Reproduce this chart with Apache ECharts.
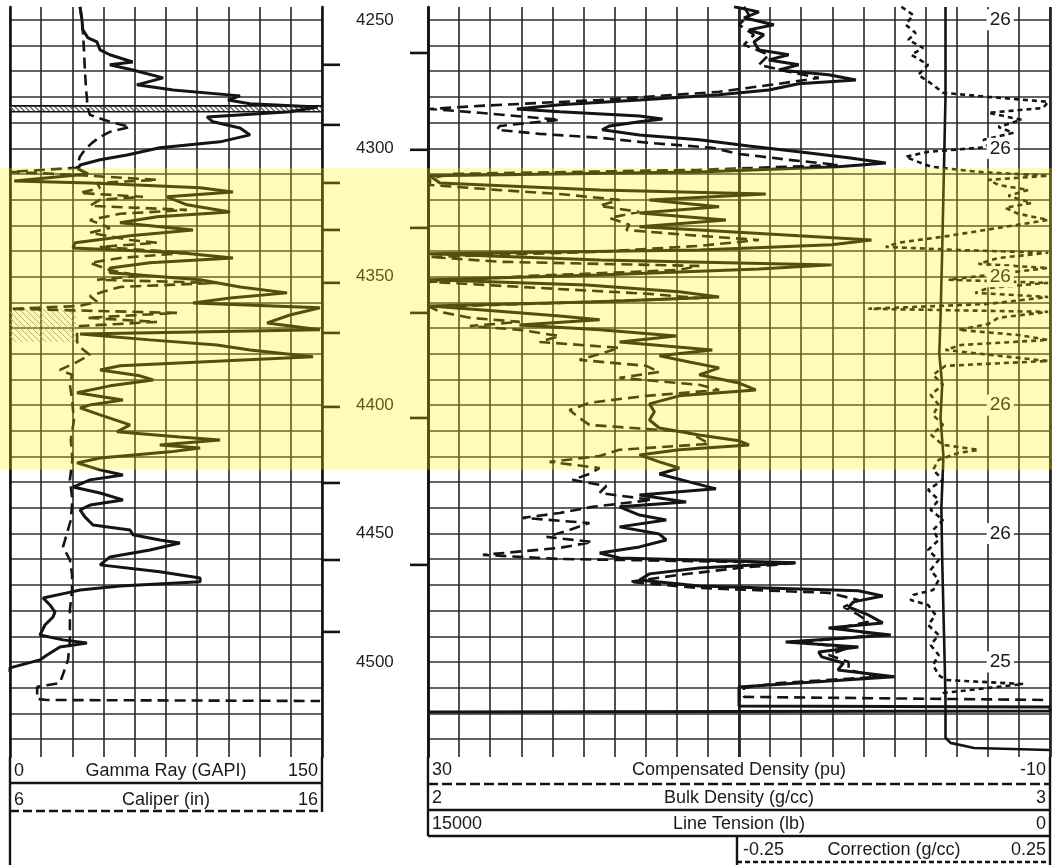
<!DOCTYPE html>
<html>
<head>
<meta charset="utf-8">
<title>Well log 4250-4530 ft</title>
<script src="https://cdn.jsdelivr.net/npm/echarts@6/dist/echarts.min.js"></script>
<style>
  html, body { margin: 0; padding: 0; background: #ffffff; }
  #chart { width: 1052px; height: 865px; }
</style>
</head>
<body>
<div id="chart"></div>
<script>
// ---- depth window (ft) ----
const DEPTH_TOP = 4245;
const DEPTH_BASE = 4537;

// highlighted reservoir interval (ft)
const zoneTop = 4307.6;
const zoneBase = 4425.2;

// ---- track 1 : gamma ray (GAPI) ----  [depth, value]
const gammaRay = [
  [4245, 33.7], [4250, 34.6], [4253.9, 35], [4257, 37.5], [4258.6, 41.8], [4261.7, 43.3], [4263.6, 48],
  [4266.4, 59], [4267.5, 48], [4269.5, 59], [4272.6, 73.6], [4275.3, 61], [4277.3, 78.4], [4279.6, 110.6],
  [4281.2, 104.8], [4282.7, 115.4], [4283.9, 148], [4285.8, 134.6], [4287.8, 94.7], [4289.7, 97.6],
  [4292.1, 110.6], [4294.8, 115.4], [4297.5, 101], [4299.8, 72], [4302.6, 56.3], [4304.5, 43.3],
  [4306.5, 33.7], [4308, 32.7], [4310, 37.5], [4312.7, 2], [4313.5, 38.5], [4315.4, 91.4], [4317, 107.2],
  [4318.9, 75.5], [4322, 85.1], [4324.8, 105.8], [4326.7, 70.7], [4329, 52.9], [4331.8, 88], [4334.1, 57.7],
  [4336.8, 31.3], [4338.8, 30.3], [4340.7, 81.7], [4342.7, 107.2], [4344.6, 67.3], [4346.6, 48.1],
  [4348.5, 48.1], [4351.2, 91.4], [4354, 110.6], [4356.3, 133.2], [4358.3, 105.8], [4360.2, 88],
  [4362.1, 149], [4364.9, 134.6], [4368, 123.6], [4370.7, 149], [4372.3, 33.7], [4374.6, 67.3],
  [4376.6, 99.5], [4378.5, 115.4], [4381.2, 145.7], [4383.2, 91.4], [4384.7, 52.9], [4386.3, 43.3],
  [4388.6, 62.5], [4390.2, 68.8], [4392.5, 48.1], [4395.2, 32.2], [4398, 54.3], [4399.9, 38.5],
  [4401.1, 33.7], [4403.8, 43.3], [4407.7, 57.7], [4410.4, 51.4], [4412.4, 81.7], [4413.6, 101],
  [4415.5, 72], [4416.7, 91.4], [4418.2, 76.9], [4420.6, 43.3], [4422.5, 32.2], [4425.2, 43.3],
  [4427.2, 54.3], [4429.1, 38.5], [4431.9, 30.3], [4434.2, 43.3], [4436.9, 54.3], [4438.9, 38.5],
  [4440.8, 33.7], [4443.5, 36], [4446.7, 39.9], [4448.6, 57.7], [4450.5, 59.1], [4452.5, 72],
  [4453.7, 81.7], [4456.4, 67.3], [4459.1, 48.1], [4462.2, 43.3], [4464.9, 72], [4467.3, 91.4],
  [4468.8, 91.4], [4470.4, 52.9], [4472, 33.7], [4473.1, 27.4], [4475.1, 15.9], [4477.8, 19.2],
  [4480.5, 21.6], [4482.5, 20.7], [4485.6, 16.8], [4489.5, 14.4], [4491.4, 25.5], [4492.6, 37],
  [4494.2, 24], [4497.3, 17.8], [4499.2, 14.4], [4502.3, 0], [4503.9, 0]
];

// ---- track 1 : caliper (in) ----  [depth, value]
const caliper = [
  [4244.9, 8.24], [4250, 8.31], [4255.1, 8.34], [4261.7, 8.37], [4269.5, 8.4], [4277.3, 8.44],
  [4281.2, 8.47], [4283.1, 8.47], [4287, 8.56], [4289.7, 9.2], [4291.7, 9.85], [4293.6, 9.2],
  [4295.6, 8.88], [4297.9, 8.63], [4300.6, 8.4], [4303.3, 8.24], [4305.7, 8.18], [4307.6, 8.15],
  [4309.2, 6.0], [4310.4, 8.15], [4312.3, 10.71], [4313.5, 8.79], [4315.4, 8.88], [4317.4, 8.24],
  [4318.9, 10.26], [4320.1, 8.88], [4322.4, 8.56], [4324, 11.67], [4325.5, 9.53], [4327.9, 8.56],
  [4331, 9.2], [4332.9, 8.56], [4335.7, 9.85], [4336.8, 10.71], [4338.4, 8.88], [4340.7, 11.67],
  [4342.7, 9.53], [4344.6, 8.56], [4347.4, 9.2], [4349.7, 10.17], [4351.2, 8.79], [4352.4, 12.63],
  [4354, 9.53], [4355.9, 8.98], [4357.5, 8.56], [4359.8, 8.79], [4361.4, 8.24], [4362.5, 6.0],
  [4364.1, 11.35], [4366, 8.47], [4367.6, 10.71], [4369.2, 8.24], [4371.5, 8.15], [4375.4, 8.15],
  [4377.3, 8.24], [4380.5, 8.56], [4383.2, 8.15], [4386.3, 7.6], [4388.2, 7.99], [4392.1, 7.92],
  [4398, 7.99], [4405.8, 8.05], [4413.6, 7.95], [4421.3, 8.0], [4429.1, 7.92], [4436.9, 8.0],
  [4444.7, 7.95], [4455.2, 7.7], [4460.3, 7.92], [4466.1, 7.99], [4472, 7.99], [4479.7, 7.92],
  [4491.4, 7.92], [4499.2, 7.86], [4508.2, 7.6], [4509.7, 6.87], [4514.4, 6.87], [4514.8, 7.19],
  [4515.2, 15.94]
];

// ---- track 2 : bulk density (g/cc) ----  [depth, value]
const bulkDensity = [
  [4244.9, 2.492], [4246.9, 2.532], [4249.2, 2.508], [4251.9, 2.556], [4253.9, 2.516], [4255.8, 2.54],
  [4258.6, 2.524], [4261.7, 2.532], [4263.6, 2.58], [4265.6, 2.548], [4267.5, 2.596], [4269.5, 2.564],
  [4271.4, 2.644], [4273.4, 2.688], [4274.9, 2.596], [4277.3, 2.548], [4279.2, 2.468], [4281.2, 2.34],
  [4283.1, 2.212], [4284.7, 2.143], [4285.8, 2.212], [4287.4, 2.34], [4288.6, 2.377], [4289.7, 2.34],
  [4291.3, 2.292], [4292.8, 2.28], [4294.8, 2.34], [4296.7, 2.436], [4299.1, 2.516], [4301.4, 2.596],
  [4303.7, 2.676], [4305.7, 2.736], [4307.2, 2.66], [4309.2, 2.436], [4310.7, 2.003], [4313.5, 2.019],
  [4316.2, 2.276], [4317.8, 2.543], [4320.1, 2.356], [4322.8, 2.468], [4325.2, 2.34], [4327.9, 2.479],
  [4330.6, 2.34], [4331.8, 2.436], [4334.1, 2.596], [4335.7, 2.713], [4337.6, 2.649], [4339.6, 2.436],
  [4341.1, 2.003], [4343.5, 2.276], [4345.4, 2.649], [4347, 2.532], [4349.3, 2.276], [4351.2, 2.003],
  [4353.2, 2.255], [4355.9, 2.404], [4357.9, 2.468], [4359.8, 2.276], [4361.4, 2.003], [4363.3, 2.104],
  [4365.3, 2.212], [4366.8, 2.276], [4368.8, 2.147], [4370.7, 2.276], [4373.1, 2.399], [4375.4, 2.308],
  [4378.5, 2.457], [4380.8, 2.372], [4383.2, 2.42], [4385.5, 2.468], [4388.2, 2.436], [4391.4, 2.5],
  [4394.1, 2.527], [4396.4, 2.404], [4399.5, 2.356], [4402.6, 2.364], [4405.8, 2.356], [4408.9, 2.372],
  [4411.6, 2.436], [4413.9, 2.5], [4415.5, 2.516], [4417.4, 2.404], [4419.4, 2.34], [4422.1, 2.372],
  [4424.5, 2.404], [4426.8, 2.372], [4429.9, 2.42], [4432.6, 2.463], [4435, 2.34], [4437.7, 2.415],
  [4439.6, 2.308], [4442.8, 2.34], [4444.7, 2.383], [4447.4, 2.308], [4450.2, 2.372], [4452.5, 2.383],
  [4455.2, 2.34], [4457.6, 2.276], [4459.5, 2.308], [4461.4, 2.591], [4463.4, 2.436], [4465.7, 2.356],
  [4468.1, 2.34], [4470.4, 2.436], [4472.3, 2.692], [4474.3, 2.731], [4476.6, 2.684], [4478.6, 2.676],
  [4481.7, 2.708], [4484.8, 2.731], [4486.8, 2.644], [4489.5, 2.744], [4492.2, 2.575], [4494.2, 2.692],
  [4496.1, 2.628], [4498, 2.633], [4500.4, 2.668], [4503.1, 2.659], [4505.8, 2.75], [4508.2, 2.596],
  [4509.7, 2.5], [4517.1, 2.5], [4517.5, 3.0], [4519.1, 3.0], [4519.5, 2.0]
];

// ---- track 2 : compensated density porosity (pu) ----  [depth, value]
const densityPorosity = [
  [4244.9, 9.68], [4248.1, 9.36], [4251.9, 10], [4255.8, 9.04], [4259.7, 9.68], [4263.6, 8.08],
  [4267.5, 8.72], [4270.2, 6.8], [4272.6, 4.87], [4274.9, 7.44], [4278, 11.28], [4281.2, 18.97],
  [4283.5, 26.67], [4284.7, 29.87], [4286.2, 26.67], [4288.9, 21.54], [4291.3, 25.38], [4292.8, 25.58],
  [4294.4, 22.82], [4295.9, 18.97], [4297.9, 15.77], [4299.8, 11.73], [4302.2, 10], [4304.5, 6.8],
  [4306.5, 3.59], [4308.4, 12.56], [4310, 28.59], [4311.9, 29.87], [4314.3, 29.87], [4316.2, 25.58],
  [4317.8, 21.54], [4320.1, 17.69], [4322.4, 18.97], [4324.8, 16.41], [4327.1, 18.33], [4329.8, 17.05],
  [4331.8, 17.24], [4334.1, 12.56], [4335.7, 8.72], [4338, 12.56], [4340.3, 18.97], [4342.3, 29.87],
  [4344.2, 25.38], [4345.8, 12.56], [4347.4, 13.85], [4349.7, 23.46], [4352, 29.87], [4354.4, 22.82],
  [4356.7, 15.77], [4358.3, 12.56], [4360.2, 21.54], [4361.8, 29.87], [4363.7, 29.23], [4366, 27.31],
  [4367.6, 24.1], [4369.2, 27.31], [4370.7, 24.1], [4373.1, 21.54], [4375.4, 22.82], [4377.7, 17.69],
  [4380.1, 18.97], [4382.4, 20.26], [4384.7, 15.96], [4387.1, 15.13], [4389.4, 17.69], [4392.1, 12.56],
  [4394.1, 11.28], [4396.4, 15.96], [4399.1, 19.62], [4401.9, 20.9], [4405, 20.26], [4407.7, 19.62],
  [4410.4, 13.4], [4412.8, 12.56], [4415.1, 11.92], [4417.4, 17.69], [4419.8, 18.97], [4422.1, 22.18],
  [4424.5, 18.97], [4426.8, 19.62], [4429.1, 20.71], [4431.5, 18.53], [4434.2, 18.97], [4436.9, 15.58],
  [4439.6, 19.42], [4442, 21.54], [4443.9, 23.91], [4445.9, 19.62], [4448.6, 20.9], [4451.3, 22.37],
  [4453.3, 19.42], [4455.6, 21.54], [4458.3, 26.47], [4459.9, 21.54], [4461.4, 6.22], [4463.4, 10],
  [4466.1, 13.85], [4468.8, 17.05], [4471.2, 12.56], [4473.1, 4.23], [4475.9, 2.31], [4478.6, 3.27],
  [4481.7, 2.31], [4484.4, 1.67], [4486.8, 3.59], [4489.5, 1.03], [4492.2, 6.15], [4494.5, 2.95],
  [4497.3, 4.23], [4500, 2.95], [4503.1, 2.95], [4505.8, 1.03], [4508.2, 7.44], [4510.1, 9.68],
  [4513.6, 9.68], [4514.8, -9.87]
];

// ---- track 2 : line tension (lb) ----  [depth, value]
const lineTension = [
  [4245, 2520], [4280, 2520], [4310, 2560], [4340, 2600], [4366, 2640], [4380, 2670], [4392, 2600],
  [4405, 2640], [4420, 2570], [4440, 2620], [4460, 2600], [4480, 2570], [4500, 2540], [4515, 2520],
  [4529.5, 2520], [4531.5, 2400], [4533.5, 1830], [4534.3, 0]
];

// ---- track 2 : density correction (g/cc) ----  [depth, value]
const densityCorrection = [
  [4244.9, 0.011], [4248.1, 0.03], [4251.9, 0.018], [4255.1, 0.034], [4257.8, 0.022], [4260.9, 0.046],
  [4263.6, 0.027], [4267.5, 0.054], [4271.4, 0.038], [4275.3, 0.062], [4278.4, 0.078], [4280, 0.151],
  [4281.9, 0.247], [4284.3, 0.239], [4286.2, 0.151], [4288.9, 0.204], [4291.7, 0.167], [4294, 0.191],
  [4296.7, 0.143], [4299.5, 0.151], [4301.4, 0.054], [4303.3, 0.018], [4305.3, 0.038], [4307.2, 0.059],
  [4309.2, 0.135], [4310.7, 0.247], [4312.3, 0.151], [4314.3, 0.167], [4316.2, 0.215], [4318.5, 0.183],
  [4321.3, 0.22], [4323.2, 0.178], [4325.5, 0.199], [4327.9, 0.247], [4331, 0.167], [4334.1, 0.087],
  [4336.8, 0.006], [4338.4, -0.014], [4339.6, 0.103], [4340.7, 0.247], [4342.7, 0.167], [4345, 0.135],
  [4346.6, 0.247], [4348.9, 0.167], [4351.2, 0.087], [4352.4, 0.247], [4354.4, 0.151], [4356.3, 0.13],
  [4357.9, 0.247], [4360.6, 0.151], [4362.5, -0.042], [4363.7, 0.247], [4366, 0.167], [4368.4, 0.151],
  [4370.7, 0.103], [4372.7, 0.199], [4374.6, 0.247], [4376.6, 0.107], [4378.5, 0.082], [4380.8, 0.167],
  [4382.8, 0.247], [4384.7, 0.082], [4388.2, 0.062], [4392.1, 0.078], [4396, 0.058], [4399.9, 0.071],
  [4403.8, 0.062], [4407.7, 0.078], [4411.6, 0.059], [4415.5, 0.078], [4417.4, 0.135], [4418.6, 0.103],
  [4421.3, 0.071], [4425.2, 0.062], [4429.1, 0.078], [4433, 0.054], [4436.9, 0.071], [4440.8, 0.058],
  [4444.7, 0.078], [4448.6, 0.062], [4452.5, 0.071], [4456.4, 0.054], [4460.3, 0.071], [4464.2, 0.058],
  [4468.1, 0.071], [4472, 0.062], [4473.9, 0.03], [4475.9, 0.026], [4477.8, 0.054], [4481.7, 0.066],
  [4485.6, 0.054], [4489.5, 0.071], [4493.4, 0.058], [4497.3, 0.071], [4501.2, 0.062], [4505.1, 0.071],
  [4507, 0.082], [4508.6, 0.207], [4510.1, 0.151], [4512.1, 0.078], [4513.6, 0.075]
];

// ---- depth-track time marks (ft) ----
const timeMarksLeft = [4267.5, 4290.9, 4313.5, 4331.8, 4352.4, 4371.9, 4400.7, 4430.3, 4460.3, 4488.3];
const timeMarksRight = [4262.9, 4300.6, 4331.0, 4364.1, 4405.0, 4462.2];

// ---- annotations printed on the 50 ft lines of track 2 ----
const noteDepths = [4250, 4300, 4350, 4400, 4450, 4500];
const noteTexts = ['26', '26', '26', '26', '26', '25'];
const noteBulkDensity = 2.92;

// ---- hatched flags in track 1: [gr from, gr to, depth from, depth to] ----
const hatchStripe = [[0, 150, 4283.5, 4285.8]];
const hatchPatch = [[0, 32, 4362.5, 4375.4]];

// ---------------------------------------------------------------------------
const INK = '#141414';
const GRID_INK = '#262626';
const FONT = '"Liberation Sans", Arial, Helvetica, sans-serif';

const TRACK_TOP = 7, TRACK_HEIGHT = 750;

function depthAxis(gridIndex, extra) {
  return Object.assign({
    type: 'value', gridIndex: gridIndex, inverse: true,
    min: DEPTH_TOP, max: DEPTH_BASE,
    minInterval: 10, maxInterval: 10, splitNumber: 29,
    axisLabel: { show: false }, axisTick: { show: false },
    axisLine: { show: false, onZero: false }, splitLine: { show: false }
  }, extra || {});
}

const hLines = {
  show: true, showMinLine: false, showMaxLine: false,
  lineStyle: { color: '#303030', width: 1.5 }
};
const vLines = { show: true, lineStyle: { color: GRID_INK, width: 1.6 } };
const bareX = { axisLine: { show: false, onZero: false }, axisTick: { show: false }, axisLabel: { show: false } };
const borderLine = { show: true, onZero: false, lineStyle: { color: INK, width: 2.6 } };

function pairs(list) { return list.map(function (p) { return [p[1], p[0]]; }); }

function hatchRenderer(step, color, lineWidth, borders) {
  return function (params, api) {
    const a = api.coord([api.value(0), api.value(2)]);
    const b = api.coord([api.value(1), api.value(3)]);
    const left = Math.min(a[0], b[0]), right = Math.max(a[0], b[0]);
    const y0 = Math.min(a[1], b[1]), y1 = Math.max(a[1], b[1]);
    const h = y1 - y0;
    const children = [];
    for (let x = left - h; x < right; x += step) {
      const s = Math.max(x, left), e = Math.min(x + h, right);
      if (e <= s) continue;
      children.push({ type: 'line', shape: { x1: s, y1: y0 + (s - x), x2: e, y2: y0 + (e - x) },
        style: { stroke: color, lineWidth: lineWidth } });
    }
    if (borders) {
      children.push({ type: 'line', shape: { x1: left, y1: y0, x2: right, y2: y0 }, style: { stroke: INK, lineWidth: 1.6 } });
      children.push({ type: 'line', shape: { x1: left, y1: y1, x2: right, y2: y1 }, style: { stroke: INK, lineWidth: 1.6 } });
    }
    return { type: 'group', children: children };
  };
}

// header boxes below the tracks
const graphics = [];
function hline(x1, x2, y, width, dash) {
  graphics.push({ type: 'line', silent: true, shape: { x1: x1, y1: y, x2: x2, y2: y },
    style: { stroke: INK, lineWidth: width, lineDash: dash || null } });
}
function vline(x, y1, y2, width) {
  graphics.push({ type: 'line', silent: true, shape: { x1: x, y1: y1, x2: x, y2: y2 },
    style: { stroke: INK, lineWidth: width } });
}
function label(text, x, y, align) {
  graphics.push({ type: 'text', silent: true, x: x, y: y,
    style: { text: text, font: '18px ' + FONT, fill: '#1a1a1a',
      align: align, textAlign: align, verticalAlign: 'middle', textVerticalAlign: 'middle' } });
}
// track 1 header
vline(10, 757, 865, 2.4);
vline(322, 757, 812, 2.4);
label('0', 14, 771, 'left'); label('Gamma Ray (GAPI)', 166, 771, 'center'); label('150', 318, 771, 'right');
hline(10, 322, 783, 2.4);
label('6', 14, 800, 'left'); label('Caliper (in)', 166, 800, 'center'); label('16', 318, 800, 'right');
hline(10, 322, 811, 2.4, [9, 4]);
// track 2 header
vline(428, 757, 836, 2.4);
vline(1050, 757, 865, 2.4);
label('30', 432, 770, 'left'); label('Compensated Density (pu)', 739, 770, 'center'); label('-10', 1046, 770, 'right');
hline(428, 1050, 784, 2.4, [10, 4]);
label('2', 432, 798, 'left'); label('Bulk Density (g/cc)', 739, 798, 'center'); label('3', 1046, 798, 'right');
hline(428, 1050, 810, 2.4);
label('15000', 432, 824, 'left'); label('Line Tension (lb)', 739, 824, 'center'); label('0', 1046, 824, 'right');
hline(428, 1050, 836, 2.4);
vline(737, 836, 865, 2.4);
label('-0.25', 743, 850, 'left'); label('Correction (g/cc)', 894, 850, 'center'); label('0.25', 1046, 850, 'right');
hline(737, 1050, 862, 2.4, [5, 3]);

const chart = echarts.init(document.getElementById('chart'), null, { renderer: 'canvas' });

chart.setOption({
  animation: false,
  backgroundColor: '#ffffff',
  grid: [
    { left: 10, width: 312, top: TRACK_TOP, height: TRACK_HEIGHT },   // track 1
    { left: 322, width: 106, top: TRACK_TOP, height: TRACK_HEIGHT },  // depth track
    { left: 428, width: 622, top: TRACK_TOP, height: TRACK_HEIGHT },  // track 2
    { left: 739, width: 311, top: TRACK_TOP, height: TRACK_HEIGHT },  // correction half of track 2
    { left: 0, width: 1052, top: TRACK_TOP, height: TRACK_HEIGHT }    // zone highlight
  ],
  xAxis: [
    Object.assign({ type: 'value', gridIndex: 0, min: 0, max: 150, interval: 15, splitLine: vLines }, bareX),
    { type: 'value', gridIndex: 0, min: 6, max: 16, show: false },
    { type: 'value', gridIndex: 1, min: 0, max: 1, show: false },
    Object.assign({ type: 'value', gridIndex: 2, min: 2, max: 3, interval: 0.05, splitLine: vLines }, bareX),
    Object.assign({ type: 'value', gridIndex: 2, min: 2, max: 3, interval: 0.5,
      splitLine: { show: true, lineStyle: { color: GRID_INK, width: 2.8 } } }, bareX),
    { type: 'value', gridIndex: 2, min: -10, max: 30, inverse: true, show: false },
    { type: 'value', gridIndex: 2, min: 0, max: 15000, inverse: true, show: false },
    { type: 'value', gridIndex: 3, min: -0.25, max: 0.25, show: false },
    { type: 'value', gridIndex: 4, min: 0, max: 1, show: false }
  ],
  yAxis: [
    depthAxis(0, { splitLine: hLines, axisLine: borderLine }),
    depthAxis(0, { position: 'right', axisLine: borderLine }),
    depthAxis(1, {
      minInterval: 50, maxInterval: 50, splitNumber: 6,
      axisLabel: { show: true, inside: true, margin: 34, showMinLabel: false, showMaxLabel: false,
        color: '#1e1e1e', fontSize: 17, fontFamily: FONT,
        formatter: function (v) { return String(v); } }
    }),
    depthAxis(2, { splitLine: hLines, axisLine: borderLine }),
    depthAxis(3),
    depthAxis(4)
  ],
  series: [
    { type: 'custom', name: 'flag', xAxisIndex: 0, yAxisIndex: 0, silent: true, z: 3,
      renderItem: hatchRenderer(5, '#555555', 1.2, true), data: hatchStripe, encode: { x: [0, 1], y: [2, 3] } },
    { type: 'custom', name: 'washout', xAxisIndex: 0, yAxisIndex: 0, silent: true, z: 3,
      renderItem: hatchRenderer(6, '#9a9a9a', 1, false), data: hatchPatch, encode: { x: [0, 1], y: [2, 3] } },
    { type: 'line', name: 'Gamma Ray', xAxisIndex: 0, yAxisIndex: 0, data: pairs(gammaRay),
      symbol: 'none', silent: true, z: 5, lineStyle: { color: INK, width: 3 } },
    { type: 'line', name: 'Caliper', xAxisIndex: 1, yAxisIndex: 0, data: pairs(caliper),
      symbol: 'none', silent: true, z: 5, lineStyle: { color: INK, width: 2.6, type: [11, 6] } },
    { type: 'scatter', name: 'marks left', xAxisIndex: 2, yAxisIndex: 2, silent: true,
      data: timeMarksLeft.map(function (d) { return [0, d]; }),
      symbol: 'rect', symbolSize: [18, 2.6], symbolOffset: [9, 0], itemStyle: { color: INK, opacity: 1 } },
    { type: 'scatter', name: 'marks right', xAxisIndex: 2, yAxisIndex: 2, silent: true,
      data: timeMarksRight.map(function (d) { return [1, d]; }),
      symbol: 'rect', symbolSize: [18, 2.6], symbolOffset: [-9, 0], itemStyle: { color: INK, opacity: 1 } },
    { type: 'line', name: 'Line Tension', xAxisIndex: 6, yAxisIndex: 3, data: pairs(lineTension),
      symbol: 'none', silent: true, z: 5, lineStyle: { color: INK, width: 2.6 } },
    { type: 'line', name: 'Correction', xAxisIndex: 7, yAxisIndex: 4, data: pairs(densityCorrection),
      symbol: 'none', silent: true, z: 5, lineStyle: { color: INK, width: 2.6, type: [5, 4] } },
    { type: 'line', name: 'Compensated Density', xAxisIndex: 5, yAxisIndex: 3, data: pairs(densityPorosity),
      symbol: 'none', silent: true, z: 5, lineStyle: { color: INK, width: 2.6, type: [11, 6] } },
    { type: 'line', name: 'Bulk Density', xAxisIndex: 3, yAxisIndex: 3, data: pairs(bulkDensity),
      symbol: 'none', silent: true, z: 6, lineStyle: { color: INK, width: 3 } },
    { type: 'scatter', name: 'notes', xAxisIndex: 3, yAxisIndex: 3, silent: true, z: 7,
      data: noteDepths.map(function (d, i) { return { value: [noteBulkDensity, d], name: noteTexts[i] }; }),
      symbolSize: 2, itemStyle: { color: 'rgba(0,0,0,0)', opacity: 1 },
      label: { show: true, position: 'inside', formatter: '{b}', color: '#1a1a1a', fontSize: 19,
        fontFamily: FONT, backgroundColor: '#ffffff', padding: [1, 3] } },
    { type: 'custom', name: 'zone', xAxisIndex: 8, yAxisIndex: 5, silent: true, z: 100,
      data: [[0, 1, zoneTop, zoneBase]], encode: { x: [0, 1], y: [2, 3] },
      renderItem: function (params, api) {
        const a = api.coord([api.value(0), api.value(2)]);
        const b = api.coord([api.value(1), api.value(3)]);
        return { type: 'rect', shape: { x: a[0], y: a[1], width: b[0] - a[0], height: b[1] - a[1] },
          style: { fill: 'rgba(255, 240, 0, 0.27)' } };
      } }
  ],
  graphic: graphics
});
</script>
</body>
</html>
